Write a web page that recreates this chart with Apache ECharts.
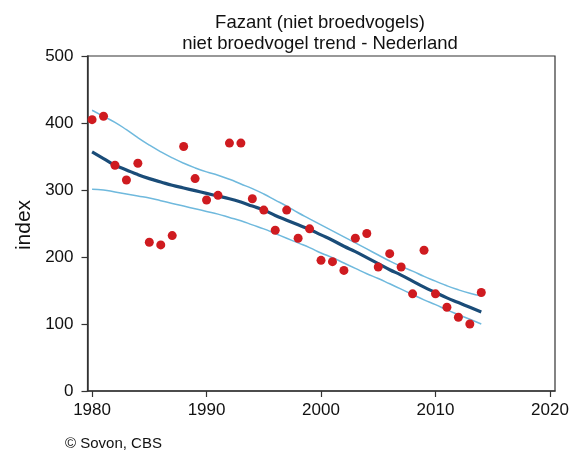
<!DOCTYPE html>
<html>
<head>
<meta charset="utf-8">
<script src="https://cdn.jsdelivr.net/npm/echarts@6/dist/echarts.min.js"></script>
<style>html,body{margin:0;padding:0;background:#fff;}#c{width:576px;height:457px;}</style>
</head>
<body>
<div id="c"></div>
<script>
var years = [1980,1981,1982,1983,1984,1985,1986,1987,1988,1989,1990,1991,1992,1993,1994,1995,1996,1997,1998,1999,2000,2001,2002,2003,2004,2005,2006,2007,2008,2009,2010,2011,2012,2013,2014];
var indexValues = [405,410,337,315,340,222,218,232,365,317,285,292,370,370,287,270,240,270,228,242,195,193,180,228,235,185,205,185,145,210,145,125,110,100,147];
var trendValues = [357,347,337,330,323,317,312,307,303,299,295,291,287,282,276,270,262,255,248,241,233,225,216,208,199,190,181,173,164,155,147,139,132,125,118];
var upperValues = [419,410,401,390,378,367,357,348,340,333,327,322,316,309,302,294,285,276,266,257,248,239,230,221,212,203,194,186,179,171,164,157,151,146,142];
var lowerValues = [301,300,297,294,291,288,284,280,276,272,268,264,259,254,248,242,235,228,221,214,206,199,191,183,175,168,160,152,144,136,129,121,114,107,100];
var xTicks = [1980,1990,2000,2010,2020];
var yTicks = [0,100,200,300,400,500];
var titleLines = ['Fazant (niet broedvogels)','niet broedvogel trend - Nederland'];
var yName = 'index';
var credit = '\u00A9 Sovon, CBS';

function pairs(vals){ return years.map(function(y,i){ return [y, vals[i]]; }); }

var chart = echarts.init(document.getElementById('c'));
var FONT = 'Liberation Sans, Arial, sans-serif';
chart.setOption({
  animation: false,
  backgroundColor: '#fff',
  title: {
    text: titleLines.join('\n'),
    left: 315, top: 7, textAlign: 'center',
    textStyle: { fontFamily: FONT, fontSize: 18.5, fontWeight: 'normal', color: '#111', lineHeight: 21 }
  },
  grid: { left: 87.5, right: 21, top: 56, bottom: 66, show: true, borderColor: '#333', borderWidth: 1.2 },
  xAxis: {
    type: 'value', min: 1979.6, max: 2020.44,
    axisLine: { show: true, onZero: false, lineStyle: { color: '#333', width: 1.5 } },
    axisTick: { show: true, length: 6, customValues: xTicks, lineStyle: { color: '#333', width: 1.2 } },
    axisLabel: { customValues: xTicks, formatter: function(v){ return String(v); }, fontFamily: FONT, fontSize: 17, color: '#111', margin: 11 },
    splitLine: { show: false }
  },
  yAxis: {
    type: 'value', min: 0, max: 500, interval: 100,
    axisLine: { show: true, lineStyle: { color: '#333', width: 1.5 } },
    axisTick: { show: true, length: 6, lineStyle: { color: '#333', width: 1.2 } },
    axisLabel: { fontFamily: FONT, fontSize: 17, color: '#111', margin: 14 },
    splitLine: { show: false }
  },
  graphic: [
    { type: 'text', x: 24, y: 225, rotation: Math.PI/2, style: { text: yName, fontFamily: FONT, fontSize: 21, fill: '#111', textAlign: 'center', textVerticalAlign: 'middle' } },
    { type: 'text', left: 65, top: 436, style: { text: credit, fontFamily: FONT, fontSize: 15, fill: '#111' } }
  ],
  series: [
    { type: 'line', data: pairs(upperValues), symbol: 'none', smooth: true, lineStyle: { color: '#6fb9dd', width: 1.5 }, z: 2 },
    { type: 'line', data: pairs(lowerValues), symbol: 'none', smooth: true, lineStyle: { color: '#6fb9dd', width: 1.5 }, z: 2 },
    { type: 'line', data: pairs(trendValues), symbol: 'none', smooth: true, lineStyle: { color: '#1a4c78', width: 3.2 }, z: 3 },
    { type: 'scatter', data: pairs(indexValues), symbol: 'circle', symbolSize: 9, itemStyle: { color: '#cf1b20', opacity: 1 }, z: 4 }
  ]
});
</script>
</body>
</html>
